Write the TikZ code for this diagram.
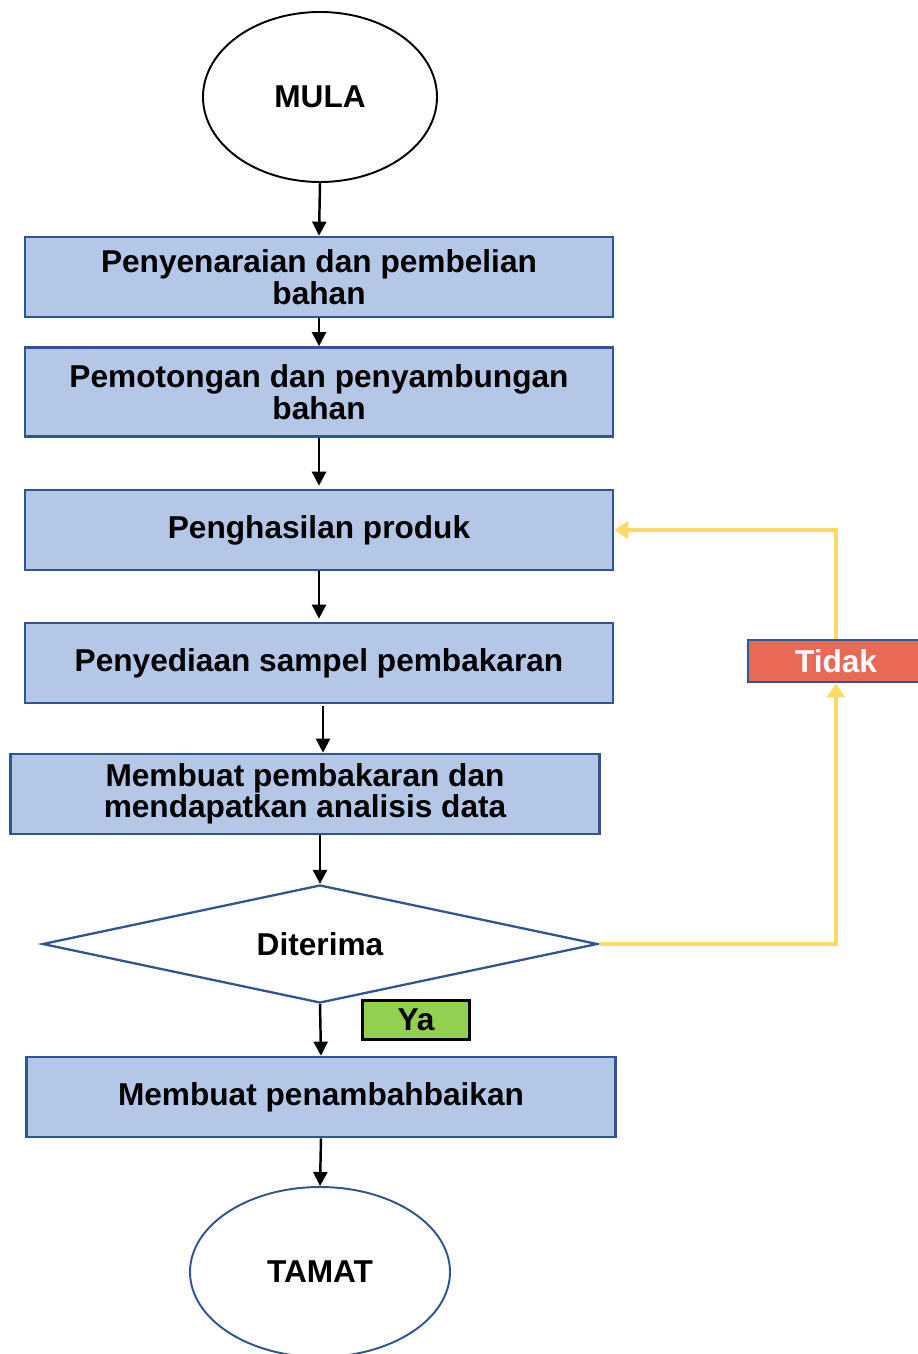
\documentclass[tikz,border=0pt]{standalone}
\usepackage{fontspec}
\setmainfont{Liberation Sans}
\usetikzlibrary{shapes.geometric,arrows.meta}
\definecolor{boxfill}{RGB}{180,199,231}
\definecolor{boxline}{RGB}{47,85,151}
\definecolor{tidakred}{RGB}{232,105,86}
\definecolor{yagreen}{RGB}{146,208,80}
\definecolor{loopyellow}{RGB}{255,217,102}

\begin{document}
\begin{tikzpicture}[x=0.02cm,y=-0.02cm,
    font=\fontsize{18}{18}\selectfont\bfseries,
    step box/.style={rectangle,draw=boxline,fill=boxfill,line width=1.5pt,
      minimum width=588*0.02cm,minimum height=80*0.02cm,align=center},
    ends/.style={ellipse,line width=1.1pt,fill=white,inner sep=0pt},
    flow/.style={-{Triangle[length=8pt,width=8pt]},line width=1.4pt,black},
    back/.style={-{Triangle[length=8pt,width=10pt]},line width=2.2pt,loopyellow}]
    \useasboundingbox (0,0) rectangle (917,1354);
    \node[ends,draw=black,minimum width=234*0.02cm,minimum height=170*0.02cm] (mula) at (320,97) {MULA};
    \node[step box] (senarai) at (319,277) {Penyenaraian dan pembelian\\bahan};
    \node[step box,minimum height=89*0.02cm] (potong) at (319,392) {Pemotongan dan penyambungan\\bahan};
    \node[step box] (hasil) at (319,530) {Penghasilan produk};
    \node[step box] (sampel) at (319,663) {Penyediaan sampel pembakaran};
    \node[step box,minimum width=589*0.02cm] (bakar) at (305,794) {Membuat pembakaran dan\\mendapatkan analisis data};
    \node[diamond,shape aspect=4.7,draw=boxline,line width=1.3pt,fill=white,inner sep=0pt,
      minimum width=555*0.02cm,minimum height=118*0.02cm] (terima) at (320,944) {Diterima};
    \node[rectangle,draw=black,fill=yagreen,line width=1.3pt,
      minimum width=107*0.02cm,minimum height=39*0.02cm] (ya) at (416,1020) {Ya};
    \node[step box,minimum width=589*0.02cm] (baik) at (321,1097) {Membuat penambahbaikan};
    \node[ends,draw=boxline,minimum width=260*0.02cm,minimum height=170*0.02cm] (tamat) at (320,1272) {TAMAT};
    \node[rectangle,draw=boxline,fill=tidakred,line width=1.5pt,text=white,
      minimum width=176*0.02cm,minimum height=42*0.02cm] (tidak) at (836,661) {Tidak};
    % main flow
    \draw[flow] (mula.south) -- (senarai.north);
    \draw[flow] (senarai.south) -- (potong.north);
    \draw[flow] (potong.south) -- ([yshift=0.06cm]hasil.north);
    \draw[flow] (hasil.south) -- ([yshift=0.06cm]sampel.north);
    \coordinate (k) at ([xshift=0.08cm,yshift=-0.04cm]sampel.south);
    \draw[flow] (k) -- (k |- bakar.north);
    \draw[flow] (bakar.south -| terima.north) -- (terima.north);
    \draw[flow] (terima.south) -- (baik.north);
    \draw[flow] (baik.south) -- (tamat.north);
    % loop back
    \draw[back] (terima.east) -| (tidak.south);
    \draw[back] (tidak.north) |- (hasil.east);
\end{tikzpicture}
\end{document}
